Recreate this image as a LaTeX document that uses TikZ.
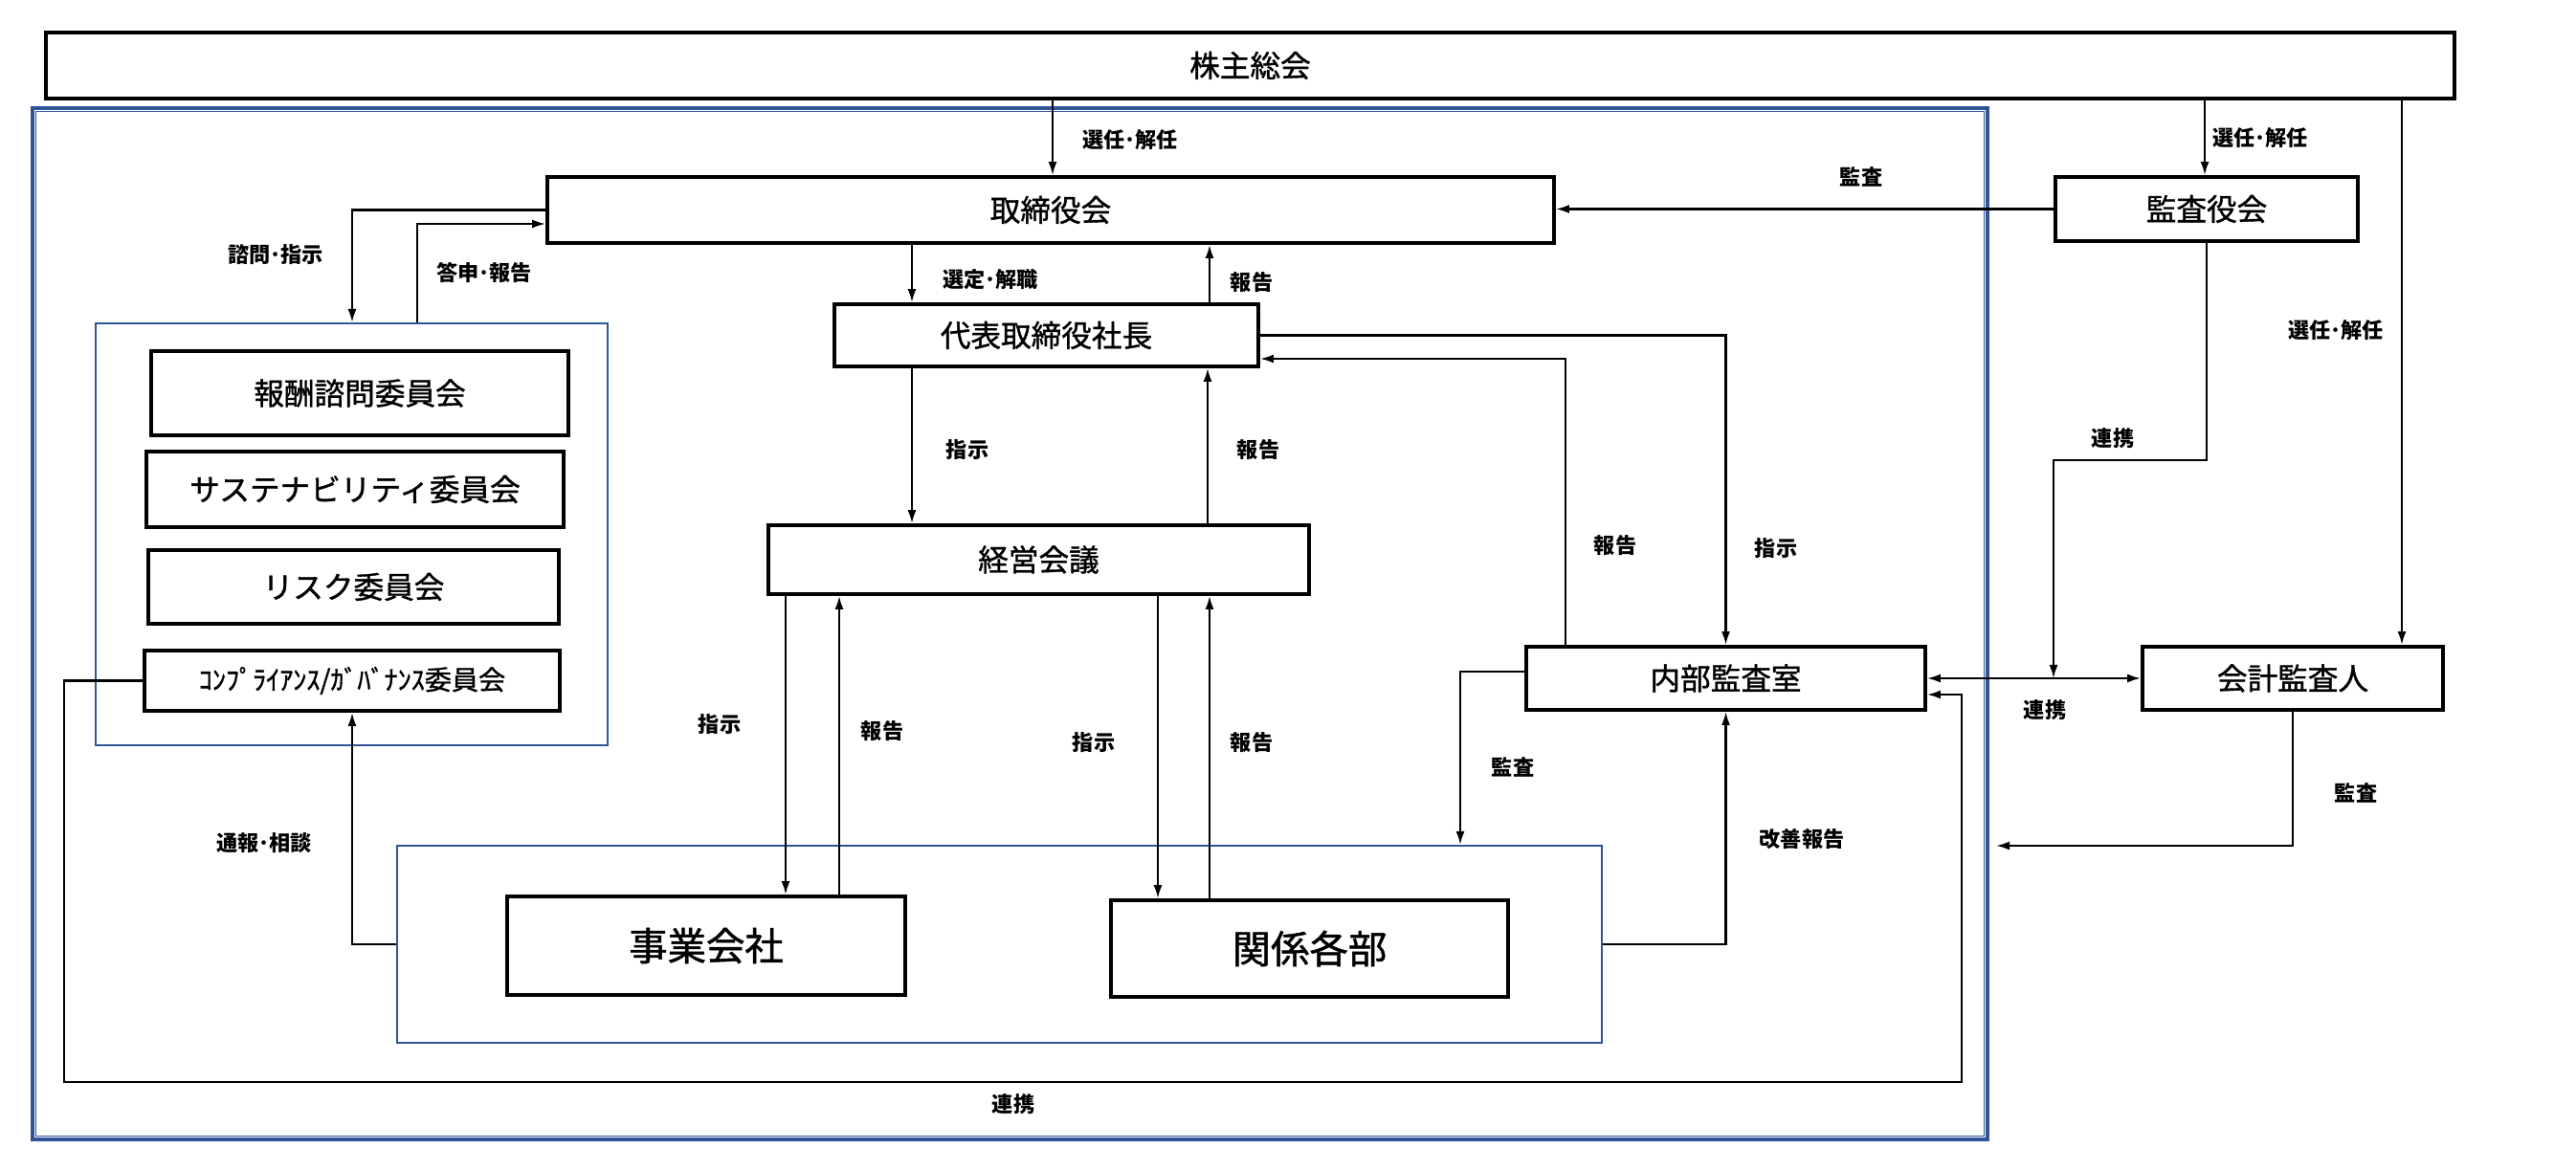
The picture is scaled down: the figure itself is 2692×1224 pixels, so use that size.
\documentclass[tikz,border=0pt]{standalone}
\usepackage{fontspec}
\setmainfont{Noto Sans CJK JP}
\newfontfamily\boxfont{Noto Sans CJK JP}[FakeBold=1.2]
\usepackage{tikz}
\usetikzlibrary{positioning, arrows.meta}
\definecolor{grpblue}{HTML}{2F5597}

\begin{document}
\begin{tikzpicture}[x=0.1mm, y=-0.1mm,
        box/.style={draw, line width=1.1pt, inner sep=0pt, font=\boxfont\fontsize{9}{11}\selectfont},
        grp/.style={draw=grpblue, line width=0.6pt, inner sep=0pt},
        lbl/.style={inner sep=0pt, font=\fontsize{6.3}{7}\selectfont\bfseries},
        conn/.style={line width=0.6pt, -{Latex[length=1.4mm,width=0.9mm]}},
        conn2/.style={line width=0.6pt, {Latex[length=1.4mm,width=0.9mm]}-{Latex[length=1.4mm,width=0.9mm]}}]
    \useasboundingbox (0,0) rectangle (2692,1224);

    \node[grp, line width=1pt, minimum width=204.3mm, minimum height=107.8mm] (outer) at (1055.5,652) {};
    \draw[grpblue, line width=0.3pt] ([shift={(5,5)}]outer.north west) rectangle ([shift={(-5,-5)}]outer.south east);
    \node[grp, minimum width=53.5mm, minimum height=44.1mm] (cmtgrp) at (367.5,558.5) {};
    \node[grp, minimum width=125.9mm, minimum height=20.6mm] (bizgrp) at (1044.5,987) {};

    \node[box, minimum width=251.7mm, minimum height=6.9mm] (soukai) at (1306.5,68.5) {株主総会};
    \node[box, minimum width=105.2mm, minimum height=6.9mm] (torishimari) at (1098,219.5) {取締役会};
    \node[box, minimum width=31.6mm, minimum height=6.7mm] (kansayaku) at (2306,218.5) {監査役会};
    \node[box, minimum width=44.3mm, minimum height=6.5mm] (shacho) at (1093.5,350.5) {代表取締役社長};
    \node[box, minimum width=56.5mm, minimum height=7.2mm] (keiei) at (1085.5,585) {経営会議};
    \node[box, minimum width=43.6mm, minimum height=8.8mm] (housyu) at (376,411) {報酬諮問委員会};
    \node[box, minimum width=43.6mm, minimum height=7.9mm] (sustain) at (371,511.5) {サステナビリティ委員会};
    \node[box, minimum width=42.9mm, minimum height=7.7mm] (risk) at (369.5,613.5) {リスク委員会};
    \node[box, minimum width=43.4mm, minimum height=6.3mm, font=\boxfont\fontsize{8}{10}\selectfont] (comp) at (368,711.5) {ｺﾝﾌﾟﾗｲｱﾝｽ/ｶﾞﾊﾞﾅﾝｽ委員会};
    \node[box, minimum width=41.7mm, minimum height=6.6mm] (naibu) at (1803.5,709) {内部監査室};
    \node[box, minimum width=31.4mm, minimum height=6.6mm] (kaikei) at (2396,709) {会計監査人};
    \node[box, minimum width=41.6mm, minimum height=10.3mm, font=\boxfont\fontsize{11.5}{13}\selectfont] (jigyo) at (738,988.5) {事業会社};
    \node[box, minimum width=41.5mm, minimum height=10.1mm, font=\boxfont\fontsize{11.5}{13}\selectfont] (kankei) at (1368.5,991.5) {関係各部};

    \draw[conn] (soukai.south -| 1100,0) -- (torishimari.north -| 1100,0);
    \draw[conn] (soukai.south -| 2304,0) -- (kansayaku.north -| 2304,0);
    \draw[conn] (soukai.south -| 2510,0) -- (kaikei.north -| 2510,0);
    \draw[conn] (kansayaku.west) -- (kansayaku.west -| torishimari.east);
    \draw[conn] (torishimari.west) -| (cmtgrp.north -| 368,0);
    \draw[conn] (cmtgrp.north -| 436,0) |- (torishimari.west |- 0,234);
    \draw[conn] (torishimari.south -| 953,0) -- (shacho.north -| 953,0);
    \draw[conn] (shacho.north -| 1264,0) -- (torishimari.south -| 1264,0);
    \draw[conn] (shacho.south -| 953,0) -- (keiei.north -| 953,0);
    \draw[conn] (keiei.north -| 1262,0) -- (shacho.south -| 1262,0);
    \draw[conn] (shacho.east) -| (naibu.north);
    \draw[conn] (naibu.north -| 1636,0) |- (shacho.east |- 0,375);
    \draw[conn] (keiei.south -| 821,0) -- (jigyo.north -| 821,0);
    \draw[conn] (jigyo.north -| 877,0) -- (keiei.south -| 877,0);
    \draw[conn] (keiei.south -| 1210,0) -- (kankei.north -| 1210,0);
    \draw[conn] (kankei.north -| 1264,0) -- (keiei.south -| 1264,0);
    \draw[conn] (naibu.west |- 0,702) -| (bizgrp.north -| 1526,0);
    \draw[conn] (bizgrp.east |- 0,987) -| (naibu.south);
    \draw[conn] (bizgrp.west |- 0,987) -| (comp.south);
    \draw[conn] (comp.west) -| (67,1131) -| (2050,726) -- (naibu.east |- 0,726);
    \draw[conn2] (naibu.east) -- (kaikei.west);
    \draw[conn] (kansayaku.south) |- (2146,481) -- (naibu.east -| 2146,0);
    \draw[conn] (kaikei.south) |- (2086,884);

    \node[lbl] (l1) at (1181,146) {選任･解任};
    \node[lbl] (l2) at (2362,144) {選任･解任};
    \node[lbl] (l3) at (2441,345) {選任･解任};
    \node[lbl] (l4) at (1945,185) {監査};
    \node[lbl] (l5) at (288,266) {諮問･指示};
    \node[lbl] (l6) at (506,285) {答申･報告};
    \node[lbl] (l7) at (1035,292) {選定･解職};
    \node[lbl] (l8) at (1308,295) {報告};
    \node[lbl] (l9) at (1011,470) {指示};
    \node[lbl] (l10) at (1315,470) {報告};
    \node[lbl] (l11) at (1688,570) {報告};
    \node[lbl] (l12) at (1856,573) {指示};
    \node[lbl] (l13) at (2208,458) {連携};
    \node[lbl] (l14) at (752,757) {指示};
    \node[lbl] (l15) at (922,764) {報告};
    \node[lbl] (l16) at (1143,776) {指示};
    \node[lbl] (l17) at (1308,776) {報告};
    \node[lbl] (l18) at (1581,802) {監査};
    \node[lbl] (l19) at (1883,877) {改善報告};
    \node[lbl] (l20) at (276,881) {通報･相談};
    \node[lbl] (l21) at (2137,742) {連携};
    \node[lbl] (l22) at (2462,829) {監査};
    \node[lbl] (l23) at (1059,1154) {連携};
\end{tikzpicture}
\end{document}
